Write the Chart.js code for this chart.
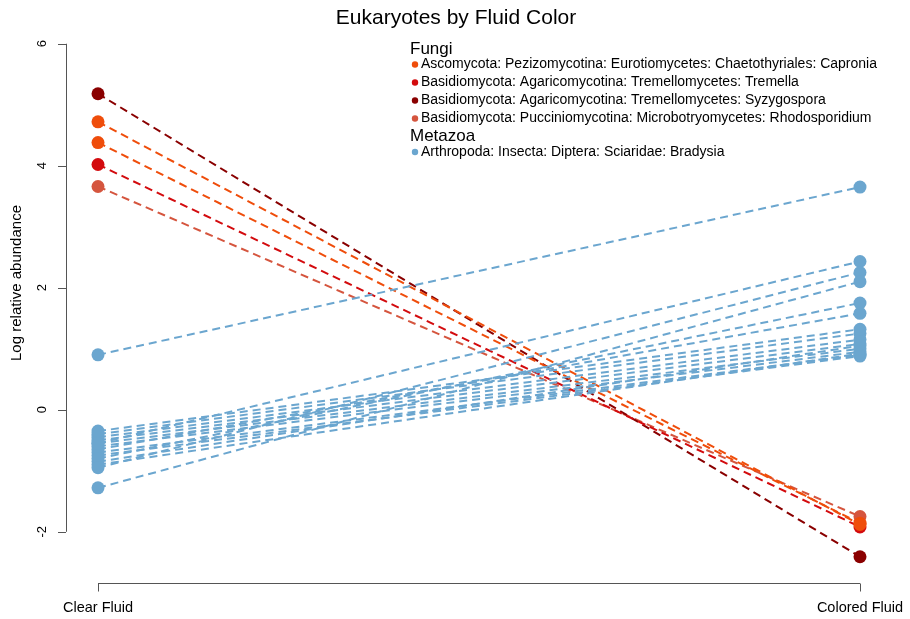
<!DOCTYPE html>
<html>
<head>
<meta charset="utf-8">
<script src="https://cdn.jsdelivr.net/npm/chart.js@4"></script>
<style>
  body { margin: 0; background: #fff; }
  #wrap { width: 910px; height: 619px; }
</style>
</head>
<body>
<div id="wrap"><canvas id="fluidChart" width="910" height="619"></canvas></div>
<script>
// categories on the x axis
const categories = ['Clear Fluid', 'Colored Fluid'];
const yTicks = [-2, 0, 2, 4, 6];

// one entry per OTU line: taxon, value in clear fluid, value in colored fluid
const fungiTaxa  = ['Capronia', 'Capronia', 'Tremella', 'Syzygospora', 'Rhodosporidium'];
const fungiClear = [4.72, 4.38, 4.02, 5.18, 3.66];
const fungiColor = [-1.88, -1.86, -1.92, -2.41, -1.75];

const metazoaClear = [0.90, -1.28, -0.95, -0.55, -0.80, -0.65, -0.35, -0.40, -0.45, -0.50, -0.55, -0.60, -0.70, -0.75, -0.85, -0.90];
const metazoaColor = [3.65, 2.10, 2.25, 2.43, 1.75, 1.58, 1.32, 1.25, 1.15, 1.08, 1.00, 0.95, 0.90, 0.88, 1.05, 0.92];

const legendGroups = [
  { title: 'Fungi', items: [
    ['Capronia', 'Ascomycota: Pezizomycotina: Eurotiomycetes: Chaetothyriales: Capronia'],
    ['Tremella', 'Basidiomycota: Agaricomycotina: Tremellomycetes: Tremella'],
    ['Syzygospora', 'Basidiomycota: Agaricomycotina: Tremellomycetes: Syzygospora'],
    ['Rhodosporidium', 'Basidiomycota: Pucciniomycotina: Microbotryomycetes: Rhodosporidium']
  ]},
  { title: 'Metazoa', items: [
    ['Bradysia', 'Arthropoda: Insecta: Diptera: Sciaridae: Bradysia']
  ]}
];

const taxonColors = {
  Capronia: '#ef4d0b',
  Tremella: '#d30b0e',
  Syzygospora: '#8a0000',
  Rhodosporidium: '#d5553e',
  Bradysia: '#6ba6cf'
};

const FONT = '"Liberation Sans", Arial, Helvetica, sans-serif';

function makeLine(taxon, a, b) {
  const c = taxonColors[taxon];
  return {
    label: taxon,
    data: [{ x: 1, y: a }, { x: 2, y: b }],
    borderColor: c,
    backgroundColor: c,
    pointBackgroundColor: c,
    pointBorderWidth: 0,
    pointRadius: 6.5,
    borderWidth: 2,
    borderDash: [8, 5],
    showLine: true,
    fill: false,
    clip: false
  };
}

const datasets = [];
metazoaClear.forEach((v, i) => datasets.push(makeLine('Bradysia', v, metazoaColor[i])));
fungiClear.forEach((v, i) => datasets.push(makeLine(fungiTaxa[i], v, fungiColor[i])));

// R style axes, title and legend
const rAxes = {
  id: 'rAxes',
  afterDraw(chart) {
    const ctx = chart.ctx;
    const xs = chart.scales.x, ys = chart.scales.y;
    const area = chart.chartArea;
    ctx.save();
    ctx.strokeStyle = '#555';
    ctx.fillStyle = '#000';
    ctx.lineWidth = 1;

    // y axis
    const yTop = ys.getPixelForValue(yTicks[yTicks.length - 1]);
    const yBot = ys.getPixelForValue(yTicks[0]);
    ctx.beginPath();
    ctx.moveTo(area.left + 0.5, yTop);
    ctx.lineTo(area.left + 0.5, yBot);
    yTicks.forEach(t => {
      const p = Math.round(ys.getPixelForValue(t)) + 0.5;
      ctx.moveTo(area.left, p);
      ctx.lineTo(area.left - 8, p);
    });
    ctx.stroke();
    ctx.font = '13px ' + FONT;
    ctx.textAlign = 'center';
    ctx.textBaseline = 'middle';
    yTicks.forEach(t => {
      ctx.save();
      ctx.translate(area.left - 24, ys.getPixelForValue(t));
      ctx.rotate(-Math.PI / 2);
      ctx.fillText(String(t), 0, 0);
      ctx.restore();
    });
    ctx.save();
    ctx.font = '15px ' + FONT;
    ctx.translate(17, (area.top + area.bottom) / 2 - 20);
    ctx.rotate(-Math.PI / 2);
    ctx.fillText('Log relative abundance', 0, 0);
    ctx.restore();

    // x axis
    const x1 = xs.getPixelForValue(1), x2 = xs.getPixelForValue(2);
    const yb = area.bottom + 0.5;
    ctx.beginPath();
    ctx.moveTo(x1, yb);
    ctx.lineTo(x2, yb);
    [x1, x2].forEach(p => {
      ctx.moveTo(Math.round(p) + 0.5, yb);
      ctx.lineTo(Math.round(p) + 0.5, yb + 8);
    });
    ctx.stroke();
    ctx.font = '14.5px ' + FONT;
    categories.forEach((c, i) => ctx.fillText(c, xs.getPixelForValue(i + 1), yb + 24));

    // title
    ctx.font = '21px ' + FONT;
    ctx.fillText('Eukaryotes by Fluid Color', 456, 18);

    // legend
    let ly = 49;
    ctx.textAlign = 'left';
    legendGroups.forEach(g => {
      ctx.font = '17px ' + FONT;
      ctx.fillStyle = '#000';
      ctx.fillText(g.title, 410, ly);
      ly += 15.5;
      g.items.forEach(([taxon, text]) => {
        ctx.fillStyle = taxonColors[taxon];
        ctx.beginPath();
        ctx.arc(415, ly, 3.2, 0, Math.PI * 2);
        ctx.fill();
        ctx.fillStyle = '#000';
        ctx.font = '14px ' + FONT;
        ctx.fillText(text, 421, ly);
        ly += 18;
      });
    });
    ctx.restore();
  }
};

const ctx = document.getElementById('fluidChart').getContext('2d');
const fluidChart = new Chart(ctx, {
  type: 'scatter',
  data: { datasets: datasets },
  options: {
    responsive: false,
    animation: false,
    layout: { padding: { left: 66, right: 18, top: 23, bottom: 36 } },
    scales: {
      x: { type: 'linear', min: 0.958, max: 2.042, display: false },
      y: { type: 'linear', min: -2.84, max: 6.34, display: false }
    },
    plugins: {
      legend: { display: false },
      title: { display: false },
      tooltip: { enabled: false }
    }
  },
  plugins: [rAxes]
});
</script>
</body>
</html>
